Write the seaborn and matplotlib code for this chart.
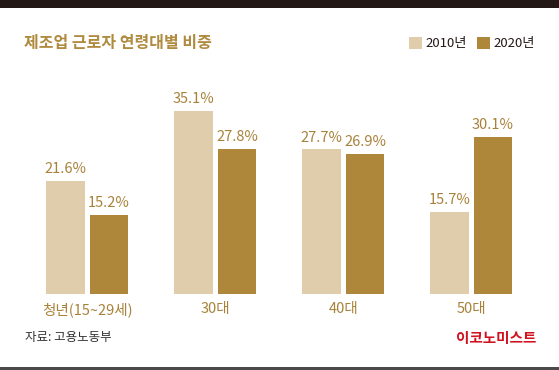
import matplotlib
matplotlib.use("Agg")
import matplotlib.pyplot as plt
import seaborn as sns
import pandas as pd
from matplotlib.patches import Rectangle

sns.set_style("white")
plt.rcParams["font.family"] = ["Noto Sans CJK KR", "DejaVu Sans"]

# ======================
# Data
# ======================
groups = ["청년(15~29세)", "30대", "40대", "50대"]
years = ["2010년", "2020년"]
share_2010 = [21.6, 35.1, 27.7, 15.7]
share_2020 = [15.2, 27.8, 26.9, 30.1]

df = pd.DataFrame({
    "group": groups * 2,
    "year": [years[0]] * len(groups) + [years[1]] * len(groups),
    "share": share_2010 + share_2020,
})

light = "#E0CDAB"
dark = "#AE873A"
gold = "#A8823A"

# ======================
# Figure
# ======================
W, H = 559, 370
fig = plt.figure(figsize=(W / 100, H / 100), dpi=100)
fig.patch.set_facecolor("white")

base = 294          # baseline pixel row
ax = fig.add_axes([0, (H - base) / H, 1, base / H])

sns.barplot(data=df, x="group", y="share", hue="year", palette=[light, dark],
            saturation=1, width=0.68, gap=0.115, linewidth=0, legend=False, ax=ax)

ax.set_xlim(-87.3 / 128, (W - 87.3) / 128)
ax.set_ylim(0, base / 5.22)
ax.set_xlabel("")
ax.set_ylabel("")
ax.set_yticks([])
sns.despine(ax=ax, left=True, bottom=True)
ax.tick_params(axis="x", length=0, pad=6, labelsize=10.5, labelcolor=gold)

for cont in ax.containers:
    ax.bar_label(cont, fmt="{:.1f}%", padding=3.5, fontsize=10.5, color=gold)

# title
fig.text(24 / W, 1 - 43 / H, "제조업 근로자 연령대별 비중", fontsize=11.5,
         fontweight="bold", color="#B08A3E", ha="left", va="center")

# legend
for x0, col, name in [(409, light, years[0]), (477, dark, years[1])]:
    fig.patches.append(Rectangle((x0 / W, 1 - 49 / H), 13 / W, 12 / H,
                                 transform=fig.transFigure, color=col, lw=0))
    fig.text((x0 + 16) / W, 1 - 43.5 / H, name, fontsize=9.5, color="#231815",
             ha="left", va="center")

# footer
fig.text(25 / W, 1 - 337.5 / H, "자료: 고용노동부", fontsize=9, color="#333333",
         ha="left", va="center")
fig.text(536 / W, 1 - 338 / H, "이코노미스트", fontsize=10.5, fontweight="bold",
         color="#D0111E", ha="right", va="center")

# top and bottom rules
fig.patches.append(Rectangle((0, 1 - 7.5 / H), 1, 7.5 / H,
                             transform=fig.transFigure, color="#231815", lw=0))
fig.patches.append(Rectangle((0, 0), 1, 3 / H,
                             transform=fig.transFigure, color="#4a4a4a", lw=0))

fig.savefig("out.png", dpi=100)
